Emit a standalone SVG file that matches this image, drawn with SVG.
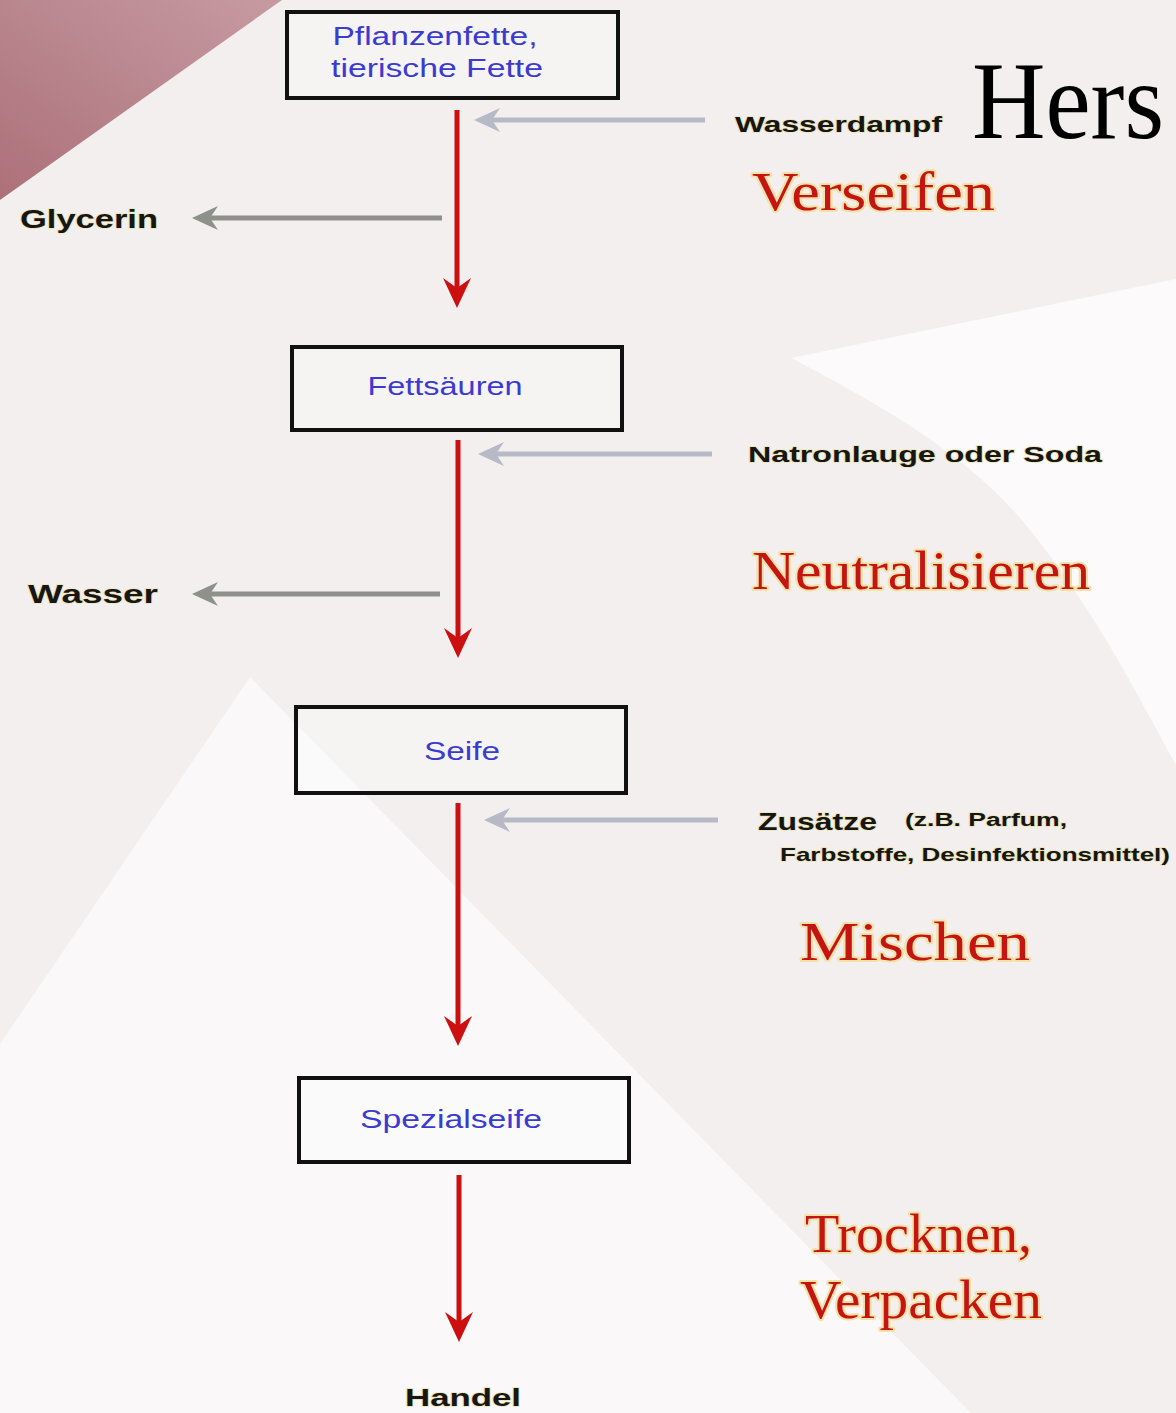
<svg xmlns="http://www.w3.org/2000/svg" width="1176" height="1413" viewBox="0 0 1176 1413">
  <style>
    .box { fill: #ffffff; fill-opacity: 0.25; stroke: #111111; stroke-width: 4; }
    .boxtxt { font-family: "Liberation Sans", Arial, sans-serif; font-size: 26px; fill: #3b3bd0; text-anchor: middle; }
    .lbl { font-family: "Liberation Sans", Arial, sans-serif; font-weight: bold; fill: #161616; stroke: #ece4b4; stroke-width: 1.5; paint-order: stroke; }
    .step { font-family: "Liberation Serif", "Times New Roman", serif; font-size: 54px; fill: #c41414; stroke: #f3e2a8; stroke-width: 4; paint-order: stroke; stroke-linejoin: round; }
    .main { stroke: #cc1010; stroke-width: 5; fill: none; }
    .inflow { stroke: #b7bac6; stroke-width: 5; fill: none; }
    .outflow { stroke: #8e908c; stroke-width: 5; fill: none; }
  </style>
  <defs>
    <marker id="redHead" markerUnits="userSpaceOnUse" markerWidth="34" markerHeight="34" refX="18" refY="15" orient="auto">
      <path d="M0,1 L30,15 L0,29 L10,15 Z" fill="#cc1010"/>
    </marker>
    <marker id="inHead" markerUnits="userSpaceOnUse" markerWidth="34" markerHeight="34" refX="14" refY="14" orient="auto">
      <path d="M0,2 L26,14 L0,26 L8,14 Z" fill="#b7bac6"/>
    </marker>
    <marker id="outHead" markerUnits="userSpaceOnUse" markerWidth="34" markerHeight="34" refX="14" refY="14" orient="auto">
      <path d="M0,2 L26,14 L0,26 L8,14 Z" fill="#8e908c"/>
    </marker>
    <linearGradient id="maroon" x1="1" y1="0" x2="0" y2="1">
      <stop offset="0" stop-color="#c79aa1"/>
      <stop offset="0.5" stop-color="#b9868e"/>
      <stop offset="1" stop-color="#ad7079"/>
    </linearGradient>
  </defs>

  <!-- background -->
  <rect x="0" y="0" width="1176" height="1413" fill="#f3efef"/>
  <polygon points="0,0 282,0 0,200" fill="url(#maroon)"/>
  <path d="M791,358 L1176,279 L1176,765 C1140,700 1100,620 1041,544 C1000,490 950,440 791,358 Z" fill="#ffffff" fill-opacity="0.7"/>
  <polygon points="250,677 0,1044 0,1413 971,1413" fill="#ffffff" fill-opacity="0.55"/>

  <text x="972" y="138" font-family="Liberation Serif, 'Times New Roman', serif" font-size="110" fill="#000000" textLength="192" lengthAdjust="spacingAndGlyphs">Hers</text>

  <!-- connectors -->
  <g id="connectors">
    <line class="main" x1="457" y1="110" x2="457" y2="296" marker-end="url(#redHead)"/>
    <line class="main" x1="458" y1="440" x2="458" y2="646" marker-end="url(#redHead)"/>
    <line class="main" x1="458" y1="803" x2="458" y2="1034" marker-end="url(#redHead)"/>
    <line class="main" x1="459" y1="1175" x2="459" y2="1330" marker-end="url(#redHead)"/>

    <line class="inflow" x1="705" y1="120" x2="486" y2="120" marker-end="url(#inHead)"/>
    <line class="inflow" x1="712" y1="454" x2="490" y2="454" marker-end="url(#inHead)"/>
    <line class="inflow" x1="718" y1="820" x2="496" y2="820" marker-end="url(#inHead)"/>

    <line class="outflow" x1="442" y1="218" x2="204" y2="218" marker-end="url(#outHead)"/>
    <line class="outflow" x1="440" y1="594" x2="204" y2="594" marker-end="url(#outHead)"/>
  </g>

  <!-- nodes -->
  <g id="node-fette">
    <rect class="box" x="287" y="12" width="331" height="86"/>
    <text class="boxtxt" x="435" y="45" textLength="205" lengthAdjust="spacingAndGlyphs">Pflanzenfette,</text>
    <text class="boxtxt" x="437" y="77" textLength="212" lengthAdjust="spacingAndGlyphs">tierische Fette</text>
  </g>
  <g id="node-fettsaeuren">
    <rect class="box" x="292" y="347" width="330" height="83"/>
    <text class="boxtxt" x="445" y="395" textLength="155" lengthAdjust="spacingAndGlyphs">Fettsäuren</text>
  </g>
  <g id="node-seife">
    <rect class="box" x="296" y="707" width="330" height="86"/>
    <text class="boxtxt" x="462" y="760" textLength="76" lengthAdjust="spacingAndGlyphs">Seife</text>
  </g>
  <g id="node-spezialseife">
    <rect class="box" x="299" y="1078" width="330" height="84"/>
    <text class="boxtxt" x="451" y="1128" textLength="182" lengthAdjust="spacingAndGlyphs">Spezialseife</text>
  </g>
  <g id="node-handel">
    <text class="lbl" x="405" y="1406" font-size="24" textLength="116" lengthAdjust="spacingAndGlyphs">Handel</text>
  </g>

  <!-- side inputs / outputs -->
  <g id="node-wasserdampf">
    <text class="lbl" x="735" y="132" font-size="22" textLength="207" lengthAdjust="spacingAndGlyphs">Wasserdampf</text>
  </g>
  <g id="node-glycerin">
    <text class="lbl" x="20" y="228" font-size="26" textLength="138" lengthAdjust="spacingAndGlyphs">Glycerin</text>
  </g>
  <g id="node-natronlauge">
    <text class="lbl" x="748" y="462" font-size="22" textLength="354" lengthAdjust="spacingAndGlyphs">Natronlauge oder Soda</text>
  </g>
  <g id="node-wasser">
    <text class="lbl" x="28" y="603" font-size="26" textLength="130" lengthAdjust="spacingAndGlyphs">Wasser</text>
  </g>
  <g id="node-zusaetze">
    <text class="lbl" x="758" y="830" font-size="24" textLength="119" lengthAdjust="spacingAndGlyphs">Zusätze</text>
    <text class="lbl" x="905" y="826" font-size="18" textLength="162" lengthAdjust="spacingAndGlyphs">(z.B. Parfum,</text>
    <text class="lbl" x="780" y="861" font-size="19" textLength="390" lengthAdjust="spacingAndGlyphs">Farbstoffe, Desinfektionsmittel)</text>
  </g>

  <!-- process steps -->
  <g id="step-verseifen">
    <text class="step" x="752" y="210" textLength="243" lengthAdjust="spacingAndGlyphs">Verseifen</text>
  </g>
  <g id="step-neutralisieren">
    <text class="step" x="752" y="589" textLength="338" lengthAdjust="spacingAndGlyphs">Neutralisieren</text>
  </g>
  <g id="step-mischen">
    <text class="step" x="800" y="960" textLength="230" lengthAdjust="spacingAndGlyphs">Mischen</text>
  </g>
  <g id="step-trocknen">
    <text class="step" x="805" y="1252" textLength="227" lengthAdjust="spacingAndGlyphs">Trocknen,</text>
    <text class="step" x="800" y="1318" textLength="242" lengthAdjust="spacingAndGlyphs">Verpacken</text>
  </g>
</svg>
